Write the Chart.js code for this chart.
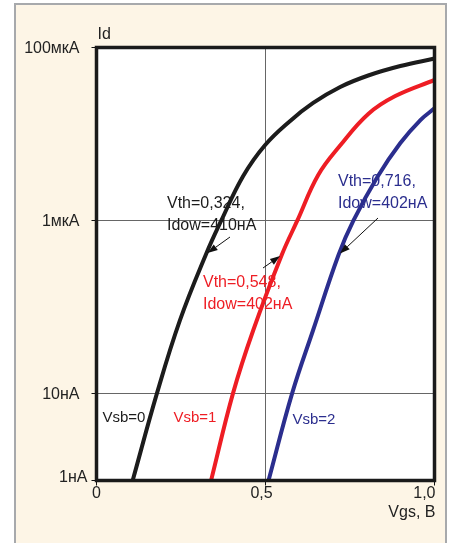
<!DOCTYPE html>
<html>
<head>
<meta charset="utf-8">
<script src="https://cdn.jsdelivr.net/npm/chart.js@4.4.0/dist/chart.umd.min.js"></script>
<style>
  html, body { margin: 0; padding: 0; background: #fff; }
  #frame {
    position: absolute; left: 14px; top: 3px; width: 429px; height: 560px;
    background: #fdf5e6; border: 2px solid #a7a9ac; border-bottom: none;
  }
  #wrap { position: absolute; left: 0; top: 0; width: 451px; height: 543px; overflow: hidden; }
</style>
</head>
<body>
<div id="frame"></div>
<div id="wrap"><canvas id="myChart"></canvas></div>
<script>
// Vgs (V) and drain current Id (A) for three body biases
const vgs0 = [0.107, 0.179, 0.247, 0.324, 0.369, 0.434, 0.499, 0.573, 0.641, 0.721, 0.804, 0.899, 1.0];
const id0  = [1e-9, 1.02e-8, 7.1e-8, 4.10e-7, 1.0e-6, 3.28e-6, 7.48e-6, 1.42e-5, 2.29e-5, 3.50e-5, 4.75e-5, 6.11e-5, 7.46e-5];

const vgs1 = [0.339, 0.404, 0.464, 0.548, 0.594, 0.656, 0.722, 0.804, 0.884, 1.0];
const id1  = [1e-9, 1.02e-8, 5.47e-8, 4.02e-7, 1.0e-6, 3.37e-6, 7.48e-6, 1.71e-5, 2.75e-5, 4.22e-5];

const vgs2 = [0.509, 0.579, 0.641, 0.716, 0.760, 0.831, 0.899, 0.959, 1.0];
const id2  = [1e-9, 1.02e-8, 5.47e-8, 4.02e-7, 1.0e-6, 3.20e-6, 7.88e-6, 1.46e-5, 1.98e-5];

const seriesNames = ['Vsb=0', 'Vsb=1', 'Vsb=2'];
const seriesColors = ['#1c1c1c', '#ee1d24', '#2b2e8e'];

// threshold points marked with arrows
const vth  = [0.324, 0.548, 0.716];
const idow = [410, 402, 402]; // nA

const xTicks = [0, 0.5, 1.0];
const xTickLabels = ['0', '0,5', '1,0'];
const yTicks = [1e-9, 1e-8, 1e-6, 1e-4];
const yTickLabels = ['1нА', '10нА', '1мкА', '100мкА'];

const FONT = '"Liberation Sans", Arial, sans-serif';

function pts(xs, ys) {
  return xs.map((v, i) => ({ x: v, y: ys[i] }));
}

function arrow(ctx, x0, y0, x1, y1) {
  const a = Math.atan2(y1 - y0, x1 - x0);
  const len = 10, w = 3.5;
  const bx = x1 - len * Math.cos(a), by = y1 - len * Math.sin(a);
  ctx.strokeStyle = '#111';
  ctx.fillStyle = '#111';
  ctx.lineWidth = 1;
  ctx.beginPath();
  ctx.moveTo(x0, y0);
  ctx.lineTo(bx, by);
  ctx.stroke();
  ctx.beginPath();
  ctx.moveTo(x1, y1);
  ctx.lineTo(bx + w * Math.sin(a), by - w * Math.cos(a));
  ctx.lineTo(bx - w * Math.sin(a), by + w * Math.cos(a));
  ctx.closePath();
  ctx.fill();
}

const overlay = {
  id: 'overlay',
  beforeDraw(chart) {
    const { ctx, chartArea: a } = chart;
    ctx.save();
    ctx.fillStyle = '#fff';
    ctx.fillRect(a.left, a.top, a.right - a.left, a.bottom - a.top);
    ctx.restore();
  },
  afterDatasetsDraw(chart) {
    const { ctx, chartArea: a, scales } = chart;
    const xs = scales.x, ys = scales.y;
    ctx.save();

    // frame of the plot
    ctx.strokeStyle = '#1a1a1a';
    ctx.lineWidth = 3.5;
    ctx.strokeRect(a.left, a.top, a.right - a.left, a.bottom - a.top);

    ctx.font = '16px ' + FONT;
    ctx.fillStyle = '#222';
    ctx.textBaseline = 'middle';

    // y tick labels
    ctx.textAlign = 'right';
    yTicks.forEach((v, i) => {
      const y = ys.getPixelForValue(v);
      if (i === 0) ctx.fillText(yTickLabels[i], a.left - 9, y - 3);
      else ctx.fillText(yTickLabels[i], a.left - 17, y + 1);
    });

    // x tick labels
    xTicks.forEach((v, i) => {
      const x = xs.getPixelForValue(v);
      const ty = a.bottom + 13;
      if (i === xTicks.length - 1) {
        ctx.textAlign = 'right';
        ctx.fillText(xTickLabels[i], x + 1, ty);
      } else if (i === 0) {
        ctx.textAlign = 'center';
        ctx.fillText(xTickLabels[i], x, ty);
      } else {
        ctx.textAlign = 'center';
        ctx.fillText(xTickLabels[i], x - 4, ty);
      }
    });

    // axis titles
    ctx.textAlign = 'left';
    ctx.fillText('Id', a.left + 1, a.top - 13);
    ctx.textAlign = 'right';
    ctx.fillText('Vgs, В', a.right + 1, a.bottom + 32);

    // series names near the bottom
    ctx.font = '15px ' + FONT;
    ctx.textAlign = 'left';
    const nameX = [a.left + 6, a.left + 77, a.left + 196];
    const nameY = [418, 418, 420];
    seriesNames.forEach((n, i) => {
      ctx.fillStyle = seriesColors[i];
      ctx.fillText(n, nameX[i], nameY[i]);
    });

    // threshold annotations
    ctx.font = '16px ' + FONT;
    const boxes = [
      { x: 167, y: 204, tail: [230, 237] },
      { x: 203, y: 283, tail: [263, 268] },
      { x: 338, y: 182, tail: [378, 218] }
    ];
    vth.forEach((v, i) => {
      const b = boxes[i];
      ctx.fillStyle = seriesColors[i];
      ctx.textAlign = 'left';
      ctx.fillText('Vth=' + v.toFixed(3).replace('.', ',') + ',', b.x, b.y);
      ctx.fillText('Idow=' + idow[i] + 'нА', b.x, b.y + 22);
      const px = xs.getPixelForValue(v);
      const py = ys.getPixelForValue(idow[i] * 1e-9);
      const dir = Math.atan2(py - b.tail[1], px - b.tail[0]);
      arrow(ctx, b.tail[0], b.tail[1], px - 2 * Math.cos(dir), py - 2 * Math.sin(dir));
    });

    ctx.restore();
  }
};

const ctx = document.getElementById('myChart');

new Chart(ctx, {
  type: 'line',
  data: {
    datasets: [
      { label: seriesNames[0], data: pts(vgs0, id0), borderColor: seriesColors[0] },
      { label: seriesNames[1], data: pts(vgs1, id1), borderColor: seriesColors[1] },
      { label: seriesNames[2], data: pts(vgs2, id2), borderColor: seriesColors[2] }
    ]
  },
  options: {
    responsive: true,
    maintainAspectRatio: false,
    animation: false,
    devicePixelRatio: 1,
    layout: { padding: { top: 47.5, right: 16.5, left: 0, bottom: 0 } },
    elements: {
      line: { borderWidth: 4, tension: 0.4, fill: false, capBezierPoints: true },
      point: { radius: 0, hoverRadius: 0 }
    },
    plugins: { legend: { display: false }, tooltip: { enabled: false } },
    scales: {
      x: {
        type: 'linear',
        min: 0,
        max: 1,
        afterBuildTicks: (s) => { s.ticks = xTicks.map(v => ({ value: v })); },
        afterFit: (s) => { s.height = 62.5; },
        ticks: { display: false },
        border: { display: false },
        grid: {
          color: (c) => (c.tick && c.tick.value === 0.5 ? '#666' : 'rgba(0,0,0,0)'),
          tickColor: '#111',
          tickLength: 5,
          lineWidth: 1
        }
      },
      y: {
        type: 'logarithmic',
        min: 1e-9,
        max: 1e-4,
        afterBuildTicks: (s) => { s.ticks = yTicks.map(v => ({ value: v })); },
        afterFit: (s) => { s.width = 96.5; },
        ticks: { display: false },
        border: { display: false },
        grid: {
          color: (c) => (c.tick && (c.tick.value === 1e-8 || c.tick.value === 1e-6) ? '#666' : 'rgba(0,0,0,0)'),
          tickColor: '#111',
          tickLength: 5,
          lineWidth: 1
        }
      }
    }
  },
  plugins: [overlay]
});
</script>
</body>
</html>
